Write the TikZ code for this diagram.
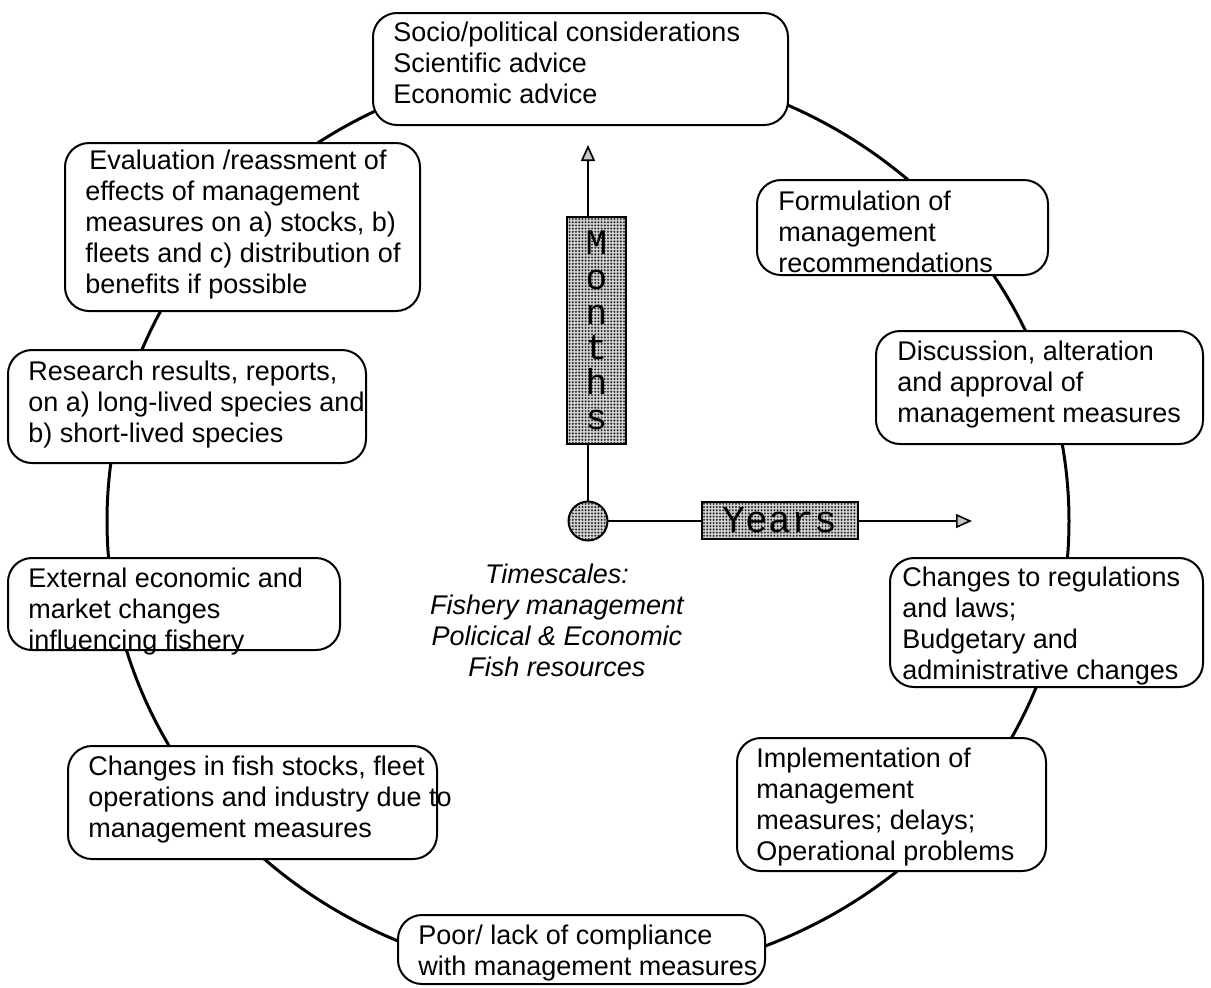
\documentclass[tikz,border=0pt]{standalone}
\usepackage{fontspec}
\setmainfont{Liberation Sans}
\newfontfamily\monofont{Liberation Mono}
\usetikzlibrary{arrows.meta,patterns.meta}

\tikzset{
  stage/.style={draw=black, line width=1pt, rounded corners=12pt, fill=white, inner sep=0pt},
  stagetext/.style={inner sep=0pt, anchor=west, align=left,
    font=\fontsize{13.5}{15.5}\selectfont},
  ring/.style={draw=black, line width=1.5pt},
  axis/.style={draw=black, line width=1.2pt,
    -{Triangle[length=8pt,width=7pt,fill=gray!45,line width=0.8pt]}},
  stipple/.style={draw=black, line width=1pt,
    preaction={fill=gray!35},
    pattern={Dots[distance=1.6pt,radius=0.55pt]}, pattern color=black!85},
  centretext/.style={align=center, inner sep=0pt,
    font=\fontsize{13.5}{15.5}\selectfont\itshape}
}

\begin{document}
\begin{tikzpicture}[x=0.5pt,y=-0.5pt]
\useasboundingbox (0,0) rectangle (1211,987);
\fill[white] (0,0) rectangle (1211,987);

% hub of the cycle
\coordinate (origin) at (588,521);

% the management cycle
\draw[ring] (origin) ellipse [x radius=240.5pt, y radius=228.5pt];

% stages round the cycle
\node[stage, minimum width=207.5pt, minimum height=56pt]   (socio)    at (580.5,69)   {};
\node[stage, minimum width=177.5pt, minimum height=84pt]   (evaluate) at (242.5,227)  {};
\node[stage, minimum width=145.5pt, minimum height=47.5pt] (formulate) at (902.5,227.5) {};
\node[stage, minimum width=179pt,   minimum height=56.5pt] (research) at (187,406.5)  {};
\node[stage, minimum width=163.5pt, minimum height=56.5pt] (discuss)  at (1039.5,387.5) {};
\node[stage, minimum width=166pt,   minimum height=46pt]   (external) at (174,604)    {};
\node[stage, minimum width=156.5pt, minimum height=64.5pt] (regs)     at (1046.5,622.5) {};
\node[stage, minimum width=184.5pt, minimum height=56.5pt] (stocks)   at (252.5,802.5) {};
\node[stage, minimum width=154.5pt, minimum height=66.5pt] (implement) at (891.5,804.5) {};
\node[stage, minimum width=183.5pt, minimum height=34.5pt] (comply)   at (581.5,949.5) {};

% stage texts
\node[stagetext] (socio-t) at (393,63)
  {Socio/political considerations\\Scientific advice\\Economic advice};
\node[stagetext] (evaluate-t) at (85,225)
  {\hspace{2pt}Evaluation /reassment of\\effects of management\\measures on a) stocks, b)\\fleets and c) distribution of\\benefits if possible};
\node[stagetext] (formulate-t) at (778,232)
  {Formulation of\\management\\recommendations};
\node[stagetext] (research-t) at (28,405)
  {Research results, reports,\\on a) long-lived species and\\b) short-lived species};
\node[stagetext] (discuss-t) at (897,385)
  {Discussion, alteration\\and approval of\\management measures};
\node[stagetext] (external-t) at (28,612)
  {External economic and\\market changes\\influencing fishery};
\node[stagetext] (regs-t) at (902,626)
  {Changes to regulations\\and laws;\\Budgetary and\\administrative changes};
\node[stagetext] (stocks-t) at (88,800)
  {Changes in fish stocks, fleet\\operations and industry due to\\management measures};
\node[stagetext] (implement-t) at (756,807)
  {Implementation of\\management\\measures; delays;\\Operational problems};
\node[stagetext] (comply-t) at (418,953)
  {Poor/ lack of compliance\\with management measures};

% timescale axes
\coordinate (monthsend) at (588,145);
\coordinate (yearsend) at (972,521);
\draw[axis] (origin) -- (monthsend);
\draw[axis] (origin) -- (yearsend);
\node[stipple, minimum width=29.5pt, minimum height=113.5pt, align=center,
      font=\monofont\fontsize{18}{17.5}\selectfont] (months) at (596.5,330.5)
  {M\\o\\n\\t\\h\\s};
\node[stipple, minimum width=78pt, minimum height=18.5pt, inner sep=0pt,
      font=\monofont\fontsize{19}{19}\selectfont] (years) at (780,520.5) {Years};
\node[stipple, circle, minimum size=19.5pt, inner sep=0pt] (hub) at (origin) {};

% caption in the middle
\node[centretext] (caption) at (557,620)
  {Timescales:\\Fishery management\\Policical \& Economic\\Fish resources};
\end{tikzpicture}
\end{document}
